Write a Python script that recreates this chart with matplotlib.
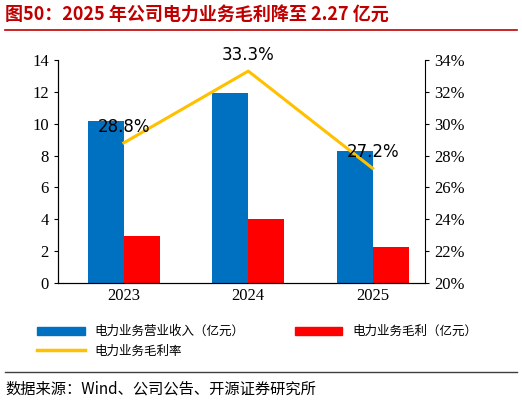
import numpy as np
import matplotlib.pyplot as plt
from matplotlib.lines import Line2D
from matplotlib.patches import Patch

plt.rcParams['font.family'] = ['Liberation Serif', 'Noto Sans CJK SC']

years = ['2023', '2024', '2025']
revenue = [10.15, 11.9, 8.3]
profit = [2.95, 4.0, 2.27]
margin = [28.8, 33.3, 27.2]

BLUE = '#0070C0'
RED = '#FF0000'
GOLD = '#FFC000'

fig = plt.figure(figsize=(5.22, 4.05), dpi=100)
ax = fig.add_axes([0.111, 0.301, 0.703, 0.551])
x = np.arange(len(years))
w = 0.29
ax.bar(x - w / 2, revenue, w, color=BLUE, zorder=2)
ax.bar(x + w / 2, profit, w, color=RED, zorder=2)
ax.set_ylim(0, 14)
ax.set_yticks(range(0, 15, 2))
ax.set_xlim(-0.53, 2.42)
ax.set_xticks(x)
ax.set_xticklabels(years)
ax.tick_params(labelsize=12, length=0)
ax.tick_params(axis='y', length=3)
for s in ['top', 'right']:
    ax.spines[s].set_visible(False)

ax2 = ax.twinx()
ax2.plot(x, margin, color=GOLD, lw=2.2, zorder=3)
ax2.set_ylim(20, 34)
ax2.set_yticks(range(20, 35, 2))
ax2.set_yticklabels([f'{v}%' for v in range(20, 35, 2)])
ax2.tick_params(labelsize=12, length=3)
ax2.spines['top'].set_visible(False)
for xi, m in zip(x, margin):
    ax2.annotate(f'{m}%', (xi, m), xytext=(0, 5), textcoords='offset points',
                 ha='center', va='bottom', fontsize=12, family='DejaVu Sans')

# column-major fill: blue, gold in col 1; red in col 2
handles = [Patch(color=BLUE), Line2D([], [], color=GOLD, lw=2.5), Patch(color=RED)]
labels = ['电力业务营业收入（亿元）', '电力业务毛利率', '电力业务毛利（亿元）']
fig.legend(handles, labels, ncol=2, loc='upper left', bbox_to_anchor=(0.05, 0.225),
           frameon=False, handlelength=3.8, columnspacing=4,
           handleheight=0.6, labelspacing=0.5, prop={'family': 'Noto Sans CJK SC', 'size': 9})

fig.text(0.01, 0.965, '图50：2025 年公司电力业务毛利降至 2.27 亿元', color='#C00000',
         fontsize=13, fontweight='bold', va='center', family=['Noto Sans CJK SC'])
fig.add_artist(Line2D([0.01, 0.99], [0.925, 0.925], color='#C00000', lw=1.2))
fig.add_artist(Line2D([0.01, 0.99], [0.082, 0.082], color='#404040', lw=1))
fig.text(0.01, 0.04, '数据来源：Wind、公司公告、开源证券研究所', fontsize=11,
         va='center', family=['Noto Sans CJK SC'])

fig.savefig('out.png', dpi=100)
